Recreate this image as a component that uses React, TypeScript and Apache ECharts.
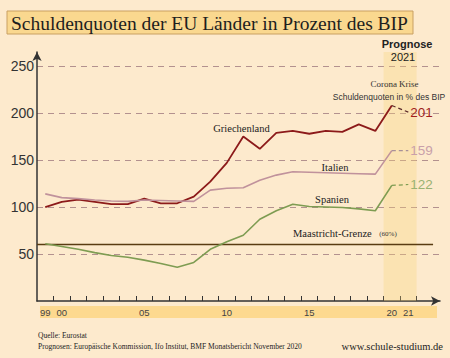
import React, { useEffect, useRef } from "react";
import * as echarts from "echarts";

const years = [1999, 2000, 2001, 2002, 2003, 2004, 2005, 2006, 2007, 2008, 2009, 2010, 2011, 2012, 2013, 2014, 2015, 2016, 2017, 2018, 2019, 2020, 2021];
const greece = [100, 105.5, 108, 105.5, 103, 103, 109, 104, 104, 111, 127, 147, 175, 162, 179, 181, 178, 181, 180, 188, 181, 208, 201];
const italy = [114, 110, 109, 107.5, 106.5, 106, 107.5, 107, 106.5, 106, 118, 120, 120.5, 128.5, 134, 137.5, 137, 136.5, 136, 135.5, 135, 160, 160];
const spain = [61, 58, 55, 51.5, 48.5, 46.5, 43.5, 40, 36, 41, 55, 63, 70, 87, 96, 103, 100.5, 100, 99.5, 98, 96, 123, 124];
const endLabels = ["201", "159", "122"];
const maastrichtLimit = 60;
const yLabelValues = [50, 100, 150, 200, 250];
const xLabelYears = [1999, 2000, 2005, 2010, 2015, 2020, 2021];
const xTickYears = [1999.5, 2000.5, 2001.5, 2002.5, 2003.5, 2004.5, 2005.5, 2006.5, 2007.5, 2008.5, 2009.5, 2010.5, 2011.5, 2012.5, 2013.5, 2014.5, 2015.5, 2016.5, 2017.5, 2018.5, 2019.5, 2020.5, 2021.5];
const forecastBand = [2019.5, 2021.5];
const maastrichtSpan = [1998.5, 2022.5];

const SANS = '"Liberation Sans", Arial, sans-serif';
const SERIF = '"Liberation Serif", "Times New Roman", serif';

function solid(vals: number[]) {
  return years.slice(0, years.length - 1).map((y, i) => [y, vals[i]]);
}
function dashed(vals: number[]) {
  const n = years.length;
  return [
    [years[n - 2], vals[n - 2]],
    [years[n - 1], vals[n - 1]],
  ];
}

export default function App() {
  const ref = useRef<HTMLDivElement>(null);
  useEffect(() => {
    document.body.style.margin = "0";
    const chart = echarts.init(ref.current!, undefined, { renderer: "svg" });
    const countries = [
      { name: "Griechenland", vals: greece, color: "#8c1a1a", dash: "#5a2a2a", lbl: "#a01e1e", w: 1.8 },
      { name: "Italien", vals: italy, color: "#c0929c", dash: "#a89098", lbl: "#c9a0aa", w: 1.6 },
      { name: "Spanien", vals: spain, color: "#7e9c52", dash: "#7e9c52", lbl: "#9ab272", w: 1.6 },
    ];
    const series: any[] = [
      {
        type: "line",
        data: [],
        silent: true,
        z: 1,
        markArea: {
          silent: true,
          itemStyle: { color: "rgba(250,210,120,0.32)" },
          data: [[{ xAxis: forecastBand[0], yAxis: 0 }, { xAxis: forecastBand[1], yAxis: 265 }]],
        },
      },
      {
        type: "line",
        data: maastrichtSpan.map((x) => [x, maastrichtLimit]),
        symbol: "none",
        lineStyle: { color: "#5a3c12", width: 1.5 },
        silent: true,
        z: 2,
      },
    ];
    countries.forEach((c, ci) => {
      series.push({
        type: "line",
        name: c.name,
        data: solid(c.vals),
        symbol: "none",
        lineStyle: { color: c.color, width: c.w },
        z: 3,
      });
      series.push({
        type: "line",
        data: dashed(c.vals),
        symbol: "none",
        lineStyle: { color: c.dash, width: 1.2, type: [4, 3] },
        z: 3,
        endLabel: {
          show: true,
          distance: 2,
          formatter: () => endLabels[ci],
          color: c.lbl,
          fontSize: 13.5,
          fontFamily: SANS,
        },
      });
    });

    const txt = (text: string, x: number, y: number, font: string, fill = "#222", align = "left") => ({
      type: "text",
      x,
      y,
      z: 10,
      style: { text, font, fill, textAlign: align, textVerticalAlign: "middle" },
    });

    chart.setOption({
      animation: false,
      backgroundColor: "#fdeacd",
      grid: { left: 37, top: 52, bottom: 57, right: 10 },
      xAxis: {
        type: "value",
        min: 1998.5,
        max: 2022.92,
        axisLine: {
          show: true,
          symbol: ["none", "arrow"],
          symbolSize: [7, 9],
          lineStyle: { color: "#333", width: 1.5 },
        },
        axisTick: {
          show: true,
          inside: true,
          length: 5,
          customValues: xTickYears,
          lineStyle: { color: "#333", width: 1 },
        },
        axisLabel: {
          customValues: xLabelYears,
          formatter: (v: number) => String(v).slice(2),
          fontSize: 9.5,
          color: "#444",
          fontFamily: SANS,
          margin: 6,
        },
        splitLine: { show: false },
      },
      yAxis: {
        type: "value",
        min: 0,
        max: 265,
        interval: 50,
        axisLine: {
          show: true,
          symbol: ["none", "arrow"],
          symbolSize: [7, 9],
          lineStyle: { color: "#333", width: 1.5 },
        },
        axisTick: { show: false },
        axisLabel: {
          customValues: yLabelValues,
          fontSize: 14,
          color: "#333",
          fontFamily: SANS,
          margin: 3,
        },
        splitLine: {
          show: true,
          showMinLine: false,
          showMaxLine: false,
          lineStyle: { color: "#b3918f", width: 1.2, type: [6, 5] },
        },
      },
      graphic: [
        {
          type: "rect",
          z: -1,
          shape: { x: 40, y: 306, width: 397, height: 12 },
          style: { fill: "#fdd98f" },
        },
        {
          type: "rect",
          z: 10,
          shape: { x: 7, y: 11, width: 406, height: 23 },
          style: { fill: "#fad88f", stroke: "#c9a063", lineWidth: 1 },
        },
        txt("Schuldenquoten der EU Länder in Prozent des BIP", 11, 23, `19.5px ${SERIF}`, "#1e1e1e"),
        txt("Prognose", 407, 44, `bold 11px ${SANS}`, "#222", "center"),
        txt("2021", 403, 57, `11px ${SANS}`, "#222", "center"),
        txt("Corona Krise", 394.5, 83.5, `9px ${SERIF}`, "#333", "center"),
        txt("Schuldenquoten in % des BIP", 389, 97, `8.5px ${SANS}`, "#333", "center"),
        txt("Griechenland", 241.5, 128.5, `10.5px ${SERIF}`, "#222", "center"),
        txt("Italien", 335, 167.5, `10.5px ${SERIF}`, "#222", "center"),
        txt("Spanien", 332, 199.5, `10.5px ${SERIF}`, "#222", "center"),
        txt("Maastricht-Grenze", 293, 233.5, `10.5px ${SERIF}`, "#222"),
        txt("(60%)", 388, 233.5, `7px ${SERIF}`, "#333", "center"),
        txt("Quelle: Eurostat", 38, 335, `7.5px ${SERIF}`, "#222"),
        txt("Prognosen: Europäische Kommission, Ifo Institut, BMF Monatsbericht November 2020", 38, 346, `7.5px ${SERIF}`, "#222"),
        txt("www.schule-studium.de", 443, 346, `10.5px ${SERIF}`, "#222", "right"),
      ],
      series,
    });
    return () => chart.dispose();
  }, []);
  return <div ref={ref} style={{ width: 450, height: 358 }} />;
}
